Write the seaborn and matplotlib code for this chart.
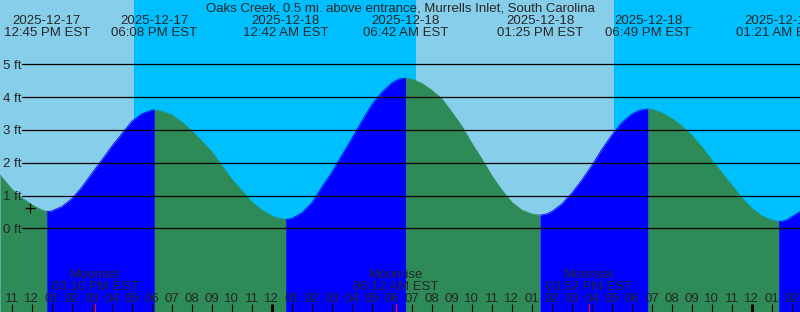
import matplotlib
matplotlib.use("Agg")
import matplotlib.pyplot as plt
import pandas as pd
import seaborn as sns

# hours since 2025-12-17 00:00 EST, tide height (ft)
tide_hours = [10.415, 11, 11.5, 12, 12.5, 12.75, 13, 13.5, 14, 14.5, 15, 15.5,
              16, 16.5, 17, 17.5, 18, 18.133,
              18.5, 19, 19.5, 20, 20.5, 21, 21.5, 22, 22.5, 23, 23.5, 24, 24.25, 24.7,
              25, 25.5, 26, 26.5, 27, 27.5, 28, 28.5, 29, 29.5, 30, 30.35, 30.7,
              31, 31.5, 32, 32.5, 33, 33.5, 34, 34.5, 35, 35.5, 36, 36.5, 37, 37.417,
              37.75, 38, 38.5, 39, 39.5, 40, 40.5, 41, 41.5, 42, 42.4, 42.817,
              43, 43.5, 44, 44.5, 45, 45.5, 46, 46.5, 47, 47.5, 48, 48.5, 49, 49.35,
              49.7, 50, 50.415]
tide_ft = [1.62, 1.20, 0.93, 0.72, 0.56, 0.51, 0.53, 0.66, 0.90, 1.25, 1.67, 2.08,
           2.50, 2.88, 3.26, 3.49, 3.60, 3.61,
           3.57, 3.46, 3.24, 2.97, 2.66, 2.33, 1.92, 1.50, 1.15, 0.80, 0.56, 0.38, 0.32, 0.27,
           0.30, 0.47, 0.77, 1.25, 1.70, 2.22, 2.73, 3.26, 3.77, 4.14, 4.43, 4.55, 4.58,
           4.55, 4.42, 4.21, 3.95, 3.55, 3.12, 2.60, 2.12, 1.61, 1.17, 0.80, 0.56, 0.44, 0.40,
           0.44, 0.51, 0.74, 1.07, 1.47, 1.91, 2.40, 2.84, 3.22, 3.48, 3.60, 3.64,
           3.63, 3.52, 3.35, 3.12, 2.84, 2.48, 2.08, 1.70, 1.32, 0.93, 0.61, 0.38, 0.25, 0.20,
           0.24, 0.35, 0.51]

# high / low tides
event_hours = [12.75, 18.133, 24.7, 30.7, 37.417, 42.817, 49.35]
event_dates = ["2025-12-17", "2025-12-17", "2025-12-18", "2025-12-18",
               "2025-12-18", "2025-12-18", "2025-12-19"]
event_times = ["12:45 PM EST", "06:08 PM EST", "12:42 AM EST", "06:42 AM EST",
               "01:25 PM EST", "06:49 PM EST", "01:21 AM EST"]

sun_hours = [17.115, 31.215, 41.115]   # sunset, sunrise, sunset
moon_hours = [15.167, 30.2, 39.867]
moon_names = ["Moonset", "Moonrise", "Moonset"]
moon_times = ["03:10 PM EST", "06:12 AM EST", "03:52 PM EST"]

hour_ticks = list(range(11, 51))
midnights = [24, 48]
height_ticks = [0, 1, 2, 3, 4, 5]
now_hour, now_ft = 11.915, 0.63

title = "Oaks Creek, 0.5 mi. above entrance, Murrells Inlet, South Carolina"

X0, X1 = 10.415, 50.415
Y0, Y1 = -2.55, 6.96
W, H = 800, 312

sns.set_style("white")
plt.rcParams['font.family'] = ['Liberation Sans', 'DejaVu Sans']
fs = 9.5

fig = plt.figure(figsize=(8, 3.12), dpi=100)
ax = fig.add_axes([0, 0, 1, 1])
ax.set_xlim(X0, X1)
ax.set_ylim(Y0, Y1)
ax.axis("off")

# sky: day / night
edges = [X0] + sun_hours + [X1]
for i in range(len(edges) - 1):
    ax.axvspan(edges[i], edges[i + 1], color="#87CEEB" if i % 2 == 0 else "#00BFFF",
               lw=0, zorder=0)

# water, rising = blue, falling = green
df = pd.DataFrame({"hour": tide_hours, "ft": tide_ft})
bounds = [X0] + event_hours + [X1]
rows = []
for i in range(len(bounds) - 1):
    seg = df[(df.hour >= bounds[i]) & (df.hour <= bounds[i + 1])].copy()
    phase = "ebb" if seg.ft.iloc[-1] < seg.ft.iloc[0] else "flood"
    seg["phase"] = phase
    seg["seg"] = i
    rows.append(seg)
    ax.fill_between(seg.hour, Y0, seg.ft, color="#2E8B57" if phase == "ebb" else "#0000FF",
                    lw=0, zorder=1)
segs = pd.concat(rows)
sns.lineplot(data=segs, x="hour", y="ft", hue="phase", units="seg", estimator=None,
             palette={"ebb": "#2E8B57", "flood": "#0000FF"}, lw=0.6, legend=False,
             ax=ax, zorder=2)
ax.set_xlim(X0, X1)
ax.set_ylim(Y0, Y1)

# height grid
ytr = ax.get_yaxis_transform()
for h in height_ticks:
    ax.axhline(h, xmin=22 / W, xmax=1, color="black", lw=0.9, zorder=3)
    ax.text(3 / W, h - 1.5 / 32.8, f"{h} ft", transform=ytr, ha="left", va="center",
            fontsize=fs, zorder=4)

ax.plot([now_hour], [now_ft], marker="+", ms=7, mew=0.9, color="black", zorder=4)

# top labels
xtr = ax.get_xaxis_transform()
ax.text(0.5, 1 - 8.5 / H, title, transform=ax.transAxes, ha="center", va="center", fontsize=fs)
for t, d, s in zip(event_hours, event_dates, event_times):
    ax.text(t, 1 - 20.5 / H, d, transform=xtr, ha="center", va="center", fontsize=fs)
    ax.text(t, 1 - 32.5 / H, s, transform=xtr, ha="center", va="center", fontsize=fs)

# moon
for t, n, s in zip(moon_hours, moon_names, moon_times):
    ax.text(t, 1 - 274.5 / H, n, transform=xtr, ha="center", va="center", fontsize=fs)
    ax.text(t, 1 - 286.5 / H, s, transform=xtr, ha="center", va="center", fontsize=fs)

# hour ticks
for t in hour_ticks:
    lab = "%02d" % ((t - 1) % 12 + 1)
    ax.text(t, 1 - 298.5 / H, lab, transform=xtr, ha="center", va="center", fontsize=fs)
ax.vlines([t for t in hour_ticks if t not in midnights], 0, 8 / H, transform=xtr,
          color="black", lw=0.8, zorder=4)
ax.vlines(midnights, 0, 8 / H, transform=xtr, color="black", lw=2.2, zorder=4)
ax.vlines(moon_hours, 0, 8 / H, transform=xtr, color="red", lw=0.8, zorder=4)

plt.savefig("out.png", dpi=100)
